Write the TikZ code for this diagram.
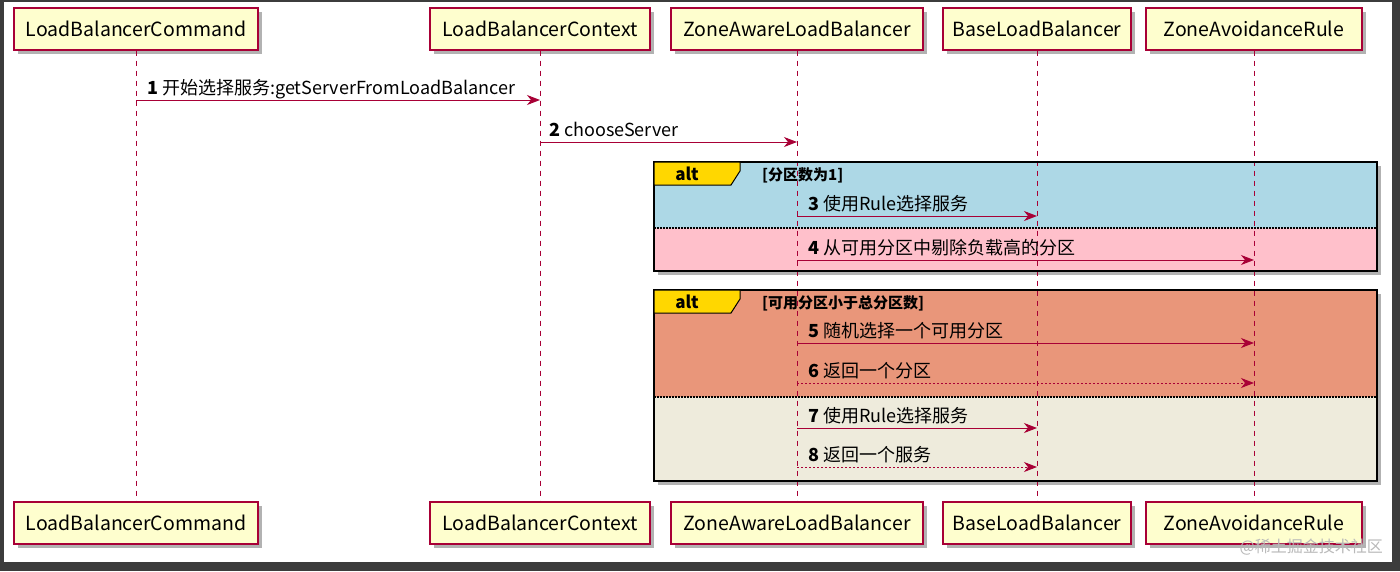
\documentclass[tikz,border=0pt]{standalone}
\usepackage{fontspec}
\setmainfont{Noto Sans CJK SC}
\usetikzlibrary{arrows.meta,positioning,shadows}
\definecolor{umlred}{HTML}{A80036}
\definecolor{umlbox}{HTML}{FEFECE}
\definecolor{altblue}{HTML}{ADD8E6}
\definecolor{altpink}{HTML}{FFC0CB}
\definecolor{altsalmon}{HTML}{E9967A}
\definecolor{altgrey}{HTML}{EEEBDC}
\definecolor{altgold}{HTML}{FFD700}
\definecolor{framegrey}{HTML}{3C3C3C}
\begin{document}
\begin{tikzpicture}[x=1pt,y=-1pt,
    actor/.style={draw=umlred,fill=umlbox,line width=1.2pt,minimum height=42pt,inner sep=0pt,
      font=\fontsize{19.5}{21}\selectfont,
      drop shadow={shadow xshift=4pt,shadow yshift=-4pt,opacity=.3,fill=black}},
    life/.style={umlred,line width=0.8pt,dash pattern=on 5pt off 5pt},
    msg/.style={umlred,line width=1pt,-{Stealth[length=13pt,width=10pt,inset=4pt]}},
    reply/.style={msg,dash pattern=on 2pt off 2pt},
    msglabel/.style={anchor=base west,inner sep=0pt,font=\fontsize{18}{20}\selectfont},
    altframe/.style={draw=black,line width=2.2pt},
    altshadow/.style={fill=black,opacity=.3},
    alttab/.style={draw=black,line width=1pt,fill=altgold},
    altlabel/.style={font=\fontsize{17}{19}\selectfont\bfseries,inner sep=0pt},
    guard/.style={anchor=base west,inner sep=0pt,font=\fontsize{15}{17}\selectfont\bfseries},
    divider/.style={black,line width=1.2pt,dash pattern=on 1.5pt off 1.5pt}]
  % screenshot frame
  \fill[framegrey] (0,0) rectangle (1400,571);
  \fill[white] (4,2) rectangle (1392,562);
  \useasboundingbox (0,0) rectangle (1400,571);

  % alt: [分区数为1]
  \fill[altshadow] (658,166) rectangle (1381,275);
  \fill[altblue] (654,162) rectangle (1377,228);
  \fill[altpink] (654,228) rectangle (1377,271);
  \draw[divider] (654,228) -- (1377,228);
  % alt: [可用分区小于总分区数]
  \fill[altshadow] (658,294) rectangle (1381,485);
  \fill[altsalmon] (654,290) rectangle (1377,397);
  \fill[altgrey] (654,397) rectangle (1377,481);
  \draw[divider] (654,397) -- (1377,397);

  % participants
  \node[actor,minimum width=244pt] (cmdT) at (136,29) {LoadBalancerCommand};
  \node[actor,minimum width=220pt] (ctxT) at (540,29) {LoadBalancerContext};
  \node[actor,minimum width=252pt] (zalbT) at (797,29) {ZoneAwareLoadBalancer};
  \node[actor,minimum width=188pt] (blbT) at (1037,29) {BaseLoadBalancer};
  \node[actor,minimum width=216pt] (zarT) at (1254,29) {ZoneAvoidanceRule};
  \node[actor,minimum width=244pt] (cmdB) at (136,523) {LoadBalancerCommand};
  \node[actor,minimum width=220pt] (ctxB) at (540,523) {LoadBalancerContext};
  \node[actor,minimum width=252pt] (zalbB) at (797,523) {ZoneAwareLoadBalancer};
  \node[actor,minimum width=188pt] (blbB) at (1037,523) {BaseLoadBalancer};
  \node[actor,minimum width=216pt] (zarB) at (1254,523) {ZoneAvoidanceRule};

  % lifelines
  \foreach \p in {cmd,ctx,zalb,blb,zar}
    \draw[life] (\p T.south) -- (\p B.north);

  % frames on top
  \draw[altframe] (654,162) rectangle (1377,271);
  \draw[alttab] (654,162) -- (740,162) -- (740,171) -- (731,185) -- (654,185) -- cycle;
  \node[altlabel] (alt1) at (687,174) {alt};
  \node[guard] (g1) at (762,180) {[分区数为1]};
  \draw[altframe] (654,290) rectangle (1377,481);
  \draw[alttab] (654,290) -- (740,290) -- (740,299) -- (731,313) -- (654,313) -- cycle;
  \node[altlabel] (alt2) at (687,302) {alt};
  \node[guard] (g2) at (762,308) {[可用分区小于总分区数]};

  % message rows
  \coordinate (r1) at (0,100);
  \coordinate (r2) at (0,142);
  \coordinate (r3) at (0,216);
  \coordinate (r4) at (0,260);
  \coordinate (r5) at (0,343);
  \coordinate (r6) at (0,383);
  \coordinate (r7) at (0,428);
  \coordinate (r8) at (0,467);

  \draw[msg] (cmdT |- r1) -- (ctxT |- r1);
  \node[msglabel] (l1) at ([xshift=11pt,yshift=6pt]cmdT |- r1) {\textbf{1} 开始选择服务:getServerFromLoadBalancer};
  \draw[msg] (ctxT |- r2) -- (zalbT |- r2);
  \node[msglabel] (l2) at ([xshift=9pt,yshift=6pt]ctxT |- r2) {\textbf{2} chooseServer};
  \draw[msg] (zalbT |- r3) -- (blbT |- r3);
  \node[msglabel] (l3) at ([xshift=11pt,yshift=6pt]zalbT |- r3) {\textbf{3} 使用Rule选择服务};
  \draw[msg] (zalbT |- r4) -- (zarT |- r4);
  \node[msglabel] (l4) at ([xshift=11pt,yshift=6pt]zalbT |- r4) {\textbf{4} 从可用分区中剔除负载高的分区};
  \draw[msg] (zalbT |- r5) -- (zarT |- r5);
  \node[msglabel] (l5) at ([xshift=11pt,yshift=6pt]zalbT |- r5) {\textbf{5} 随机选择一个可用分区};
  \draw[reply] (zalbT |- r6) -- (zarT |- r6);
  \node[msglabel] (l6) at ([xshift=11pt,yshift=6pt]zalbT |- r6) {\textbf{6} 返回一个分区};
  \draw[msg] (zalbT |- r7) -- (blbT |- r7);
  \node[msglabel] (l7) at ([xshift=11pt,yshift=6pt]zalbT |- r7) {\textbf{7} 使用Rule选择服务};
  \draw[reply] (zalbT |- r8) -- (blbT |- r8);
  \node[msglabel] (l8) at ([xshift=11pt,yshift=6pt]zalbT |- r8) {\textbf{8} 返回一个服务};

  % watermark
  \node[anchor=base east,inner sep=0pt,text=gray!55,font=\fontsize{16}{18}\selectfont] (wm) at (1383,552) {@稀土掘金技术社区};
\end{tikzpicture}
\end{document}
